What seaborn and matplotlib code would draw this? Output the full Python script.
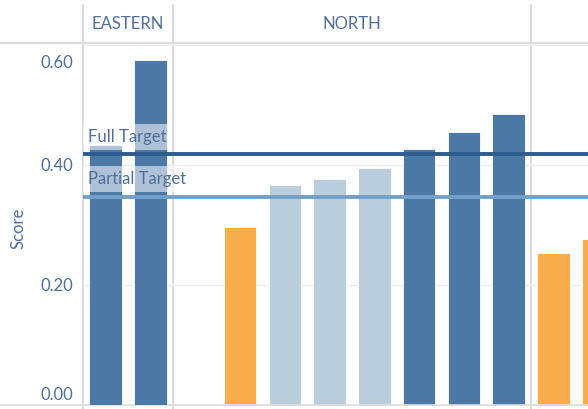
"""Tableau-style faceted score bars with target reference lines."""

import matplotlib

matplotlib.use("Agg")
import matplotlib.pyplot as plt
import numpy as np
import pandas as pd
import seaborn as sns
from matplotlib.lines import Line2D
from matplotlib.transforms import ScaledTranslation, blended_transform_factory

# --- data -------------------------------------------------------------------
REGIONS = ["EASTERN", "NORTH", "SOUTH"]
EASTERN_SLOTS = ["E1", "E2"]
EASTERN_SCORES = [0.433, 0.575]
NORTH_SLOTS = ["N1", "N2", "N3", "N4", "N5", "N6", "N7", "N8"]
NORTH_SCORES = [np.nan, 0.297, 0.367, 0.377, 0.395, 0.427, 0.455, 0.485]
SOUTH_SLOTS = ["S1", "S2", "S3", "S4", "S5", "S6", "S7", "S8"]
SOUTH_SCORES = [0.253, 0.277]
FULL_TARGET = 0.418
PARTIAL_TARGET = 0.347
Y_TICKS = [0.0, 0.2, 0.4, 0.6]
Y_TICK_LABELS = ["0.00", "0.20", "0.40", "0.60"]

BAND_COLORS = {"Full": "#4c78a6", "Partial": "#bacddd", "Below": "#f9ae4b"}
TEXT_COLOR = "#4f6f9a"
RULE_COLOR = "#dcdcdc"
FULL_LINE = "#2d5b8c"
PARTIAL_LINE = "#72a0c9"

FIG_W, FIG_H = 588, 409
PANE_TOP, PANE_BOTTOM = 43, 405


def px_rect(x0, x1):
    """Axes rectangle (figure fraction) for a pane between pixel columns."""
    return [x0 / FIG_W, 1 - PANE_BOTTOM / FIG_H, (x1 - x0) / FIG_W,
            (PANE_BOTTOM - PANE_TOP) / FIG_H]


def band(score):
    if score >= FULL_TARGET:
        return "Full"
    if score >= PARTIAL_TARGET:
        return "Partial"
    return "Below"


def frame(slots, scores):
    rows = [(s, v) for s, v in zip(slots, scores) if not np.isnan(v)]
    df = pd.DataFrame(rows, columns=["slot", "score"])
    df["band"] = df["score"].map(band)
    return df


sns.set_theme(style="white")
plt.rcParams["font.family"] = ["Lato", "DejaVu Sans"]

fig = plt.figure(figsize=(FIG_W / 100, FIG_H / 100), dpi=100)
fig.patch.set_facecolor("white")

panes = [
    (REGIONS[0], EASTERN_SLOTS, EASTERN_SCORES, 83, 173),
    (REGIONS[1], NORTH_SLOTS, NORTH_SCORES, 173, 531),
    (REGIONS[2], SOUTH_SLOTS, SOUTH_SCORES, 531, 889),
]

axes = []
for i, (region, slots, scores, x0, x1) in enumerate(panes):
    ax = fig.add_axes(px_rect(x0, x1))
    ax.set_facecolor("none")
    df = frame(slots, scores)
    sns.barplot(
        data=df,
        x="slot",
        y="score",
        hue="band",
        order=slots,
        palette=BAND_COLORS,
        saturation=1,
        dodge=False,
        width=0.73,
        errorbar=None,
        legend=False,
        edgecolor="#ffffff",
        linewidth=0.6,
        ax=ax,
    )
    ax.set_xlim(-0.5, len(slots) - 0.5)
    ax.set_ylim(0, 0.603)
    ax.set_yticks(Y_TICKS)
    ax.grid(axis="y", color="#ececec", linewidth=0.9)
    ax.set_axisbelow(True)
    ax.axhline(FULL_TARGET, color=FULL_LINE, linewidth=2.8, zorder=4)
    ax.axhline(PARTIAL_TARGET, color=PARTIAL_LINE, linewidth=2.8, zorder=4)
    ax.set_xlabel("")
    ax.set_ylabel("")
    ax.set_xticks([])
    for side in ("top", "right", "left", "bottom"):
        ax.spines[side].set_visible(False)
    if i == 0:
        ax.set_yticklabels(Y_TICK_LABELS, fontsize=12, color=TEXT_COLOR)
        ax.tick_params(axis="y", length=0, pad=7)
        # Tableau pushes the edge labels inside the pane
        labels = ax.get_yticklabels()
        labels[0].set_transform(labels[0].get_transform()
                                + ScaledTranslation(0, 12 / 100, fig.dpi_scale_trans))
        labels[-1].set_transform(labels[-1].get_transform()
                                 + ScaledTranslation(0, -17 / 100, fig.dpi_scale_trans))
        ax.set_zorder(3)
    else:
        ax.tick_params(axis="y", left=False, labelleft=False)
    # header only where the pane centre is on the canvas
    if (x0 + x1) / 2 < FIG_W:
        fig.text((x0 + x1) / 2 / FIG_W, 1 - 24 / FIG_H, region, ha="center",
                 va="center", fontsize=12, color=TEXT_COLOR)
    axes.append(ax)

# reference line labels on the first pane
ax0 = axes[0]
trans = blended_transform_factory(ax0.transAxes, ax0.transData)
for label, value in (("Full Target", FULL_TARGET), ("Partial Target", PARTIAL_TARGET)):
    ax0.annotate(
        label,
        xy=(5 / 90, value),
        xycoords=trans,
        xytext=(0, 9),
        textcoords="offset points",
        va="baseline",
        ha="left",
        fontsize=12,
        color=TEXT_COLOR,
        annotation_clip=False,
        zorder=6,
        bbox={"boxstyle": "square,pad=0.3", "facecolor": "white",
              "alpha": 0.55, "edgecolor": "none"},
    )

fig.text(18 / FIG_W, 1 - 228 / FIG_H, "Score", rotation=90, ha="center",
         va="center", fontsize=12, color=TEXT_COLOR)

# header rule, pane separators and baseline
fig.add_artist(Line2D([0, 1], [1 - 43 / FIG_H] * 2, color=RULE_COLOR, linewidth=1.6))
fig.add_artist(Line2D([0, 1], [1 - 405 / FIG_H] * 2, color=RULE_COLOR, linewidth=1.2))
for x in (83, 173, 531):
    fig.add_artist(Line2D([x / FIG_W] * 2, [0, 1 - 5 / FIG_H], color=RULE_COLOR,
                          linewidth=1.4, zorder=0))

fig.savefig("out.png", dpi=100, facecolor="white")
